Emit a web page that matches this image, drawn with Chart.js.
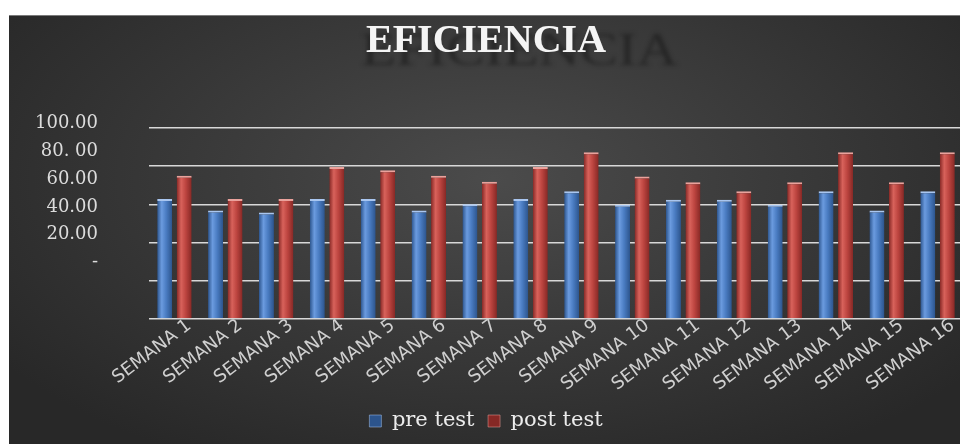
<!DOCTYPE html>
<html>
<head>
<meta charset="utf-8">
<title>Eficiencia</title>
<script src="https://cdn.jsdelivr.net/npm/chart.js@4.4.0/dist/chart.umd.min.js"></script>
<style>
  html, body { margin: 0; padding: 0; background: #fff; width: 960px; height: 444px; overflow: hidden; }
  #wrap {
    position: absolute; left: 9px; top: 15px; width: 970px; height: 429px;
    background: radial-gradient(ellipse 62% 75% at 50% 38%, #4b4b4b 0%, #3b3b3b 45%, #282828 100%);
    box-shadow: inset 0 1px 0 #7a7a7a;
  }
  canvas { display: block; }
</style>
</head>
<body>
<div id="wrap"><canvas id="chart" width="970" height="429"></canvas></div>
<script>
// datos
const titulo = 'EFICIENCIA'
const semanas = [
  'SEMANA 1', 'SEMANA 2', 'SEMANA 3', 'SEMANA 4', 'SEMANA 5', 'SEMANA 6',
  'SEMANA 7', 'SEMANA 8', 'SEMANA 9', 'SEMANA 10', 'SEMANA 11', 'SEMANA 12',
  'SEMANA 13', 'SEMANA 14', 'SEMANA 15', 'SEMANA 16'
]
const preTest = [62.8, 56.8, 55.7, 62.8, 62.8, 56.8, 60.1, 62.8, 66.8, 59.8, 62.4, 62.4, 59.8, 66.8, 56.8, 66.8]
const postTest = [75.0, 62.8, 62.8, 79.5, 77.8, 75.0, 71.8, 79.5, 87.2, 74.6, 71.5, 66.8, 71.5, 87.2, 71.5, 87.2]
const yTicks = [0, 20, 40, 60, 80, 100]
const yTickLabels = ['-', '20.00', '40.00', '60.00', '80. 00', '100.00']

// relleno tipo cilindro para cada barra
function barFill(dark, mid, light) {
  return ctx => {
    const el = ctx.element
    if (!el || !el.width) return mid
    const g = ctx.chart.ctx.createLinearGradient(el.x - el.width / 2, 0, el.x + el.width / 2, 0)
    g.addColorStop(0, dark)
    g.addColorStop(0.3, light)
    g.addColorStop(0.6, mid)
    g.addColorStop(1, dark)
    return g
  }
}

// sombra del titulo (reflejo oscuro detras del texto)
const ghostTitle = {
  id: 'ghostTitle',
  beforeDraw(chart) {
    const c = chart.ctx
    c.save()
    c.textAlign = 'left'
    c.textBaseline = 'alphabetic'
    c.font = '46px "Liberation Serif"'
    c.fillStyle = 'rgba(15, 15, 15, 0.5)'
    c.filter = 'blur(2px)'
    c.translate(352, 50)
    c.scale(1.24, 1)
    c.fillText(titulo, 0, 0)
    c.restore()
  }
}

const fixedTicks = scale => { scale.ticks = yTicks.map(v => ({ value: v })) }

const chart = new Chart(document.getElementById('chart'), {
  type: 'bar',
  data: {
    labels: semanas,
    datasets: [
      {
        label: 'pre test',
        data: preTest,
        yAxisID: 'y',
        backgroundColor: barFill('#2c548c', '#4a7cc2', '#6b9bdf'),
        borderColor: '#a9c6f0',
        borderWidth: { top: 2, right: 0, bottom: 0, left: 0 },
        categoryPercentage: 0.766,
        barPercentage: 0.77
      },
      {
        label: 'post test',
        data: postTest,
        yAxisID: 'y',
        backgroundColor: barFill('#862825', '#bd4540', '#d8625b'),
        borderColor: '#eaa29c',
        borderWidth: { top: 2, right: 0, bottom: 0, left: 0 },
        categoryPercentage: 0.766,
        barPercentage: 0.77
      }
    ]
  },
  options: {
    responsive: false,
    animation: false,
    layout: {
      padding: { top: 0, right: 16, bottom: 2.5, left: 0 }
    },
    plugins: {
      title: {
        display: true,
        text: titulo,
        color: '#f4f4f4',
        font: { family: 'Liberation Serif', size: 40, weight: 'bold' },
        padding: { top: 3, bottom: 53.6 }
      },
      legend: {
        position: 'bottom',
        labels: {
          color: '#ececec',
          font: { family: 'DejaVu Serif', size: 21 },
          boxWidth: 12,
          boxHeight: 12,
          padding: 13.5
        }
      },
      tooltip: { enabled: false }
    },
    scales: {
      x: {
        grid: { display: false, drawTicks: false },
        border: { display: false },
        ticks: {
          color: '#cfcfcf',
          font: { family: 'DejaVu Sans', size: 18 },
          minRotation: 37,
          maxRotation: 37,
          autoSkip: false,
          padding: -4,
          labelOffset: 15
        },
        afterFit: s => { s.height = 78 }
      },
      y: {
        position: 'left',
        min: 0,
        max: 104.35,
        afterBuildTicks: fixedTicks,
        ticks: { display: false },
        grid: { color: '#d8d8d8', lineWidth: 1.6, drawTicks: false },
        border: { display: false }
      },
      yLabels: {
        position: 'left',
        min: -40.7,
        max: 103,
        afterBuildTicks: fixedTicks,
        ticks: {
          color: '#dcdcdc',
          font: { family: 'DejaVu Serif', size: 18 },
          padding: 51,
          callback: (value, index) => yTickLabels[index]
        },
        grid: { display: false, drawTicks: false },
        border: { display: false },
        afterFit: s => { s.width = 140 }
      }
    }
  },
  plugins: [ghostTitle]
})

// segunda pasada para que el degradado conozca la posicion de cada barra
chart.update('none')
</script>
</body>
</html>
